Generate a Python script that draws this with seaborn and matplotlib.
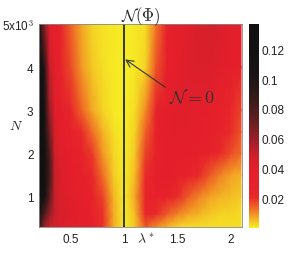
import matplotlib
matplotlib.use('Agg')

import numpy as np
import matplotlib.pyplot as plt
import seaborn as sns

# -----------------------------
# DATA
# -----------------------------
lam = [0.2, 0.25, 0.3, 0.35, 0.4, 0.5, 0.6, 0.7, 0.8, 0.9, 1.0,
       1.1, 1.2, 1.3, 1.4, 1.5, 1.6, 1.7, 1.8, 1.9, 2.0, 2.1]
n_vals = [0.3, 0.6, 1.0, 1.5, 2.0, 2.5, 3.0, 4.0, 5.0]   # x10^3

row_03 = [0.09, 0.06, 0.05, 0.046, 0.044, 0.042, 0.04, 0.033, 0.02, 0.007, 0.0,
          0.004, 0.015, 0.01, 0.006, 0.003, 0.002, 0.002, 0.002, 0.002, 0.002, 0.002]
row_06 = [0.11, 0.08, 0.06, 0.05, 0.045, 0.043, 0.04, 0.032, 0.02, 0.007, 0.0,
          0.005, 0.024, 0.021, 0.015, 0.011, 0.008, 0.006, 0.004, 0.003, 0.003, 0.002]
row_10 = [0.13, 0.12, 0.075, 0.05, 0.045, 0.042, 0.037, 0.028, 0.018, 0.006, 0.0,
          0.007, 0.025, 0.032, 0.028, 0.021, 0.015, 0.011, 0.008, 0.006, 0.005, 0.004]
row_15 = [0.135, 0.13, 0.085, 0.05, 0.044, 0.04, 0.033, 0.024, 0.013, 0.004, 0.0,
          0.005, 0.022, 0.035, 0.038, 0.035, 0.03, 0.023, 0.016, 0.011, 0.008, 0.006]
row_20 = [0.135, 0.13, 0.08, 0.048, 0.043, 0.037, 0.028, 0.019, 0.009, 0.003, 0.0,
          0.004, 0.018, 0.034, 0.04, 0.04, 0.038, 0.034, 0.028, 0.022, 0.017, 0.013]
row_25 = [0.135, 0.125, 0.07, 0.045, 0.04, 0.032, 0.022, 0.013, 0.006, 0.002, 0.0,
          0.003, 0.014, 0.032, 0.04, 0.042, 0.041, 0.038, 0.033, 0.027, 0.021, 0.016]
row_30 = [0.135, 0.12, 0.06, 0.042, 0.038, 0.025, 0.014, 0.007, 0.003, 0.001, 0.0,
          0.002, 0.01, 0.028, 0.038, 0.042, 0.042, 0.04, 0.036, 0.03, 0.024, 0.018]
row_40 = [0.13, 0.10, 0.05, 0.04, 0.032, 0.017, 0.009, 0.004, 0.002, 0.001, 0.0,
          0.001, 0.003, 0.016, 0.035, 0.04, 0.043, 0.044, 0.044, 0.042, 0.038, 0.034]
row_50 = [0.12, 0.065, 0.04, 0.035, 0.028, 0.014, 0.007, 0.003, 0.0015, 0.001, 0.0,
          0.001, 0.002, 0.012, 0.03, 0.038, 0.042, 0.045, 0.046, 0.044, 0.042, 0.04]

field = np.array([row_03, row_06, row_10, row_15, row_20,
                  row_25, row_30, row_40, row_50])

# colours evenly spaced from 0 to 0.137
cmap_colors = ["#f6ee24", "#f3a824", "#ee6426", "#e82a2a", "#e6222b",
               "#e6202b", "#e31f2b", "#d0202a", "#b0202a", "#902028",
               "#742022", "#5a1e1f", "#441c1c", "#321a1a", "#241716",
               "#1a1414", "#151313", "#131212", "#121212", "#111111", "#101010"]
cbar_ticks = [0.02, 0.04, 0.06, 0.08, 0.1, 0.12]
y_ticks = [1, 2, 3, 4, 5]
y_ticklabels = ["1", "2", "3", "4", r"5x10$^3$"]
x_ticks = [0.5, 1, 1.5, 2]

# -----------------------------
# PLOT
# -----------------------------
sns.set_theme(style="white")
plt.rcParams['font.family'] = ['Liberation Sans', 'DejaVu Sans']
plt.rcParams['mathtext.fontset'] = 'cm'

cmap = sns.blend_palette(cmap_colors, n_colors=64, as_cmap=True)

fig = plt.figure(figsize=(2.91, 2.55), dpi=100)
ax = fig.add_axes([0.134, 0.106, 0.698, 0.796])
cax = fig.add_axes([0.856, 0.102, 0.034, 0.800])

mesh = ax.pcolormesh(lam, n_vals, field, cmap=cmap, vmin=0, vmax=0.137,
                     shading='gouraud')
ax.axvline(1.0, color='#2a2a2a', lw=1.3)
ax.set_xlim(0.2, 2.11)
ax.set_ylim(0.3, 5.0)

ax.set_xticks(x_ticks)
ax.set_xticklabels(["0.5", "1", "1.5", "2"])
ax.set_yticks(y_ticks)
ax.set_yticklabels(y_ticklabels)
ax.tick_params(labelsize=8.5, colors='#222222', length=0, pad=4)
for s in ax.spines.values():
    s.set_color('#888888')
    s.set_linewidth(0.6)

ax.set_title(r'$\mathcal{N}(\Phi)$', fontsize=12, pad=3)
fig.text(0.03, 0.49, r'$N$', fontsize=10)
fig.text(0.47, 0.045, r'$\lambda^*$', fontsize=10)

ax.annotate(r'$\mathcal{N}=0$', xy=(1.01, 4.18), xytext=(1.42, 3.2),
            fontsize=13, color='#333333',
            arrowprops=dict(arrowstyle='->', color='#333333', lw=0.8,
                            shrinkA=0, shrinkB=0,
                            relpos=(0.0, 0.85)))

cb = fig.colorbar(mesh, cax=cax, ticks=cbar_ticks)
cb.ax.set_yticklabels(["0.02", "0.04", "0.06", "0.08", "0.1", "0.12"])
cb.ax.tick_params(labelsize=8.5, length=0, pad=2, colors='#222222')
cb.outline.set_visible(False)

plt.savefig("out.png", dpi=100)
plt.close()
